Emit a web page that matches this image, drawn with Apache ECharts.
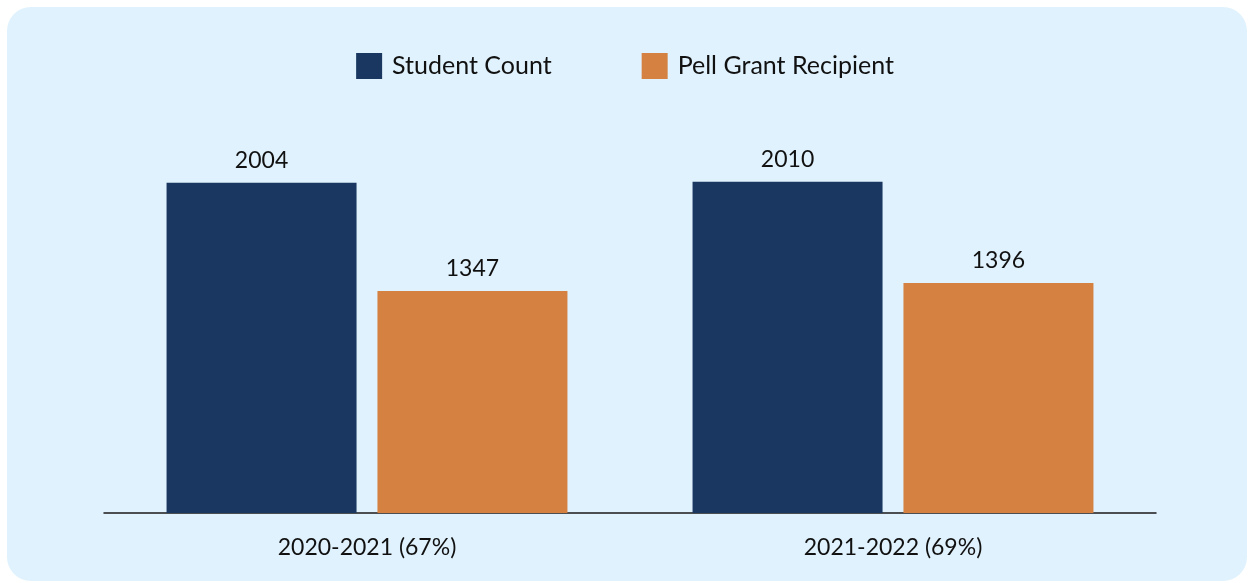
<!DOCTYPE html>
<html>
<head>
<meta charset="utf-8">
<script src="https://cdn.jsdelivr.net/npm/echarts@6/dist/echarts.min.js"></script>
<style>
  html, body { margin: 0; padding: 0; background: #fff; overflow: hidden; }
  .card {
    position: absolute; left: 7px; top: 7px; width: 1240px; height: 574px;
    background: #E0F2FD; border-radius: 24px;
  }
  #chart { position: absolute; left: 0; top: 0; width: 1250px; height: 583px; }
</style>
</head>
<body>
<div class="card"></div>
<div id="chart"></div>
<script>
// data
const years = ['2020-2021 (67%)', '2021-2022 (69%)']
const studentCount = [2004, 2010]
const pellRecipients = [1347, 1396]

const FONT = 'Lato'
const chart = echarts.init(document.getElementById('chart'))

const valueLabel = { show: true, position: 'top', distance: 11, color: '#111', fontSize: 23, fontFamily: FONT }

chart.setOption({
  backgroundColor: 'transparent',
  textStyle: { fontFamily: FONT },
  legend: {
    top: 48,
    left: 'center',
    itemWidth: 26,
    itemHeight: 26,
    itemGap: 90,
    icon: 'rect',
    textStyle: { fontSize: 25, color: '#111', fontFamily: FONT, padding: [0, 0, 0, 5] },
    data: ['Student Count', 'Pell Grant Recipient']
  },
  grid: { left: 104, right: 94, top: 101, bottom: 70 },
  xAxis: {
    type: 'category',
    data: years,
    axisLine: { lineStyle: { color: '#1a1a1a', width: 1.5 } },
    axisTick: { show: false },
    axisLabel: { color: '#111', fontSize: 23, margin: 23, fontFamily: FONT }
  },
  yAxis: {
    type: 'value',
    min: 0,
    max: 2500,
    show: false,
    splitLine: { show: false }
  },
  series: [
    {
      name: 'Student Count',
      type: 'bar',
      data: studentCount,
      barWidth: 190,
      barGap: '11%',
      itemStyle: { color: '#1A3761' },
      label: valueLabel
    },
    {
      name: 'Pell Grant Recipient',
      type: 'bar',
      data: pellRecipients,
      barWidth: 190,
      itemStyle: { color: '#D48142' },
      label: valueLabel
    }
  ]
})
</script>
</body>
</html>
